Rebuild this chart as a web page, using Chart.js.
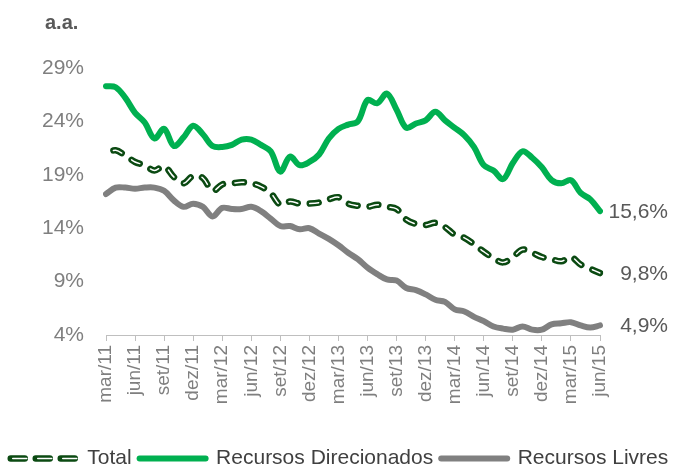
<!DOCTYPE html>
<html>
<head>
<meta charset="utf-8">
<script src="https://cdn.jsdelivr.net/npm/chart.js"></script>
<style>
    html, body { margin: 0; padding: 0; background: #fff; }
    #wrap { width: 679px; height: 467px; }
</style>
</head>
<body>
<div id="wrap"><canvas id="taxa-chart" width="679" height="467"></canvas></div>
<script>
// categorias (mensal, mar/11 a jun/15)
var meses = [
    'mar/11', 'abr/11', 'mai/11', 'jun/11', 'jul/11', 'ago/11', 'set/11', 'out/11', 'nov/11', 'dez/11',
    'jan/12', 'fev/12', 'mar/12', 'abr/12', 'mai/12', 'jun/12', 'jul/12', 'ago/12', 'set/12', 'out/12', 'nov/12', 'dez/12',
    'jan/13', 'fev/13', 'mar/13', 'abr/13', 'mai/13', 'jun/13', 'jul/13', 'ago/13', 'set/13', 'out/13', 'nov/13', 'dez/13',
    'jan/14', 'fev/14', 'mar/14', 'abr/14', 'mai/14', 'jun/14', 'jul/14', 'ago/14', 'set/14', 'out/14', 'nov/14', 'dez/14',
    'jan/15', 'fev/15', 'mar/15', 'abr/15', 'mai/15', 'jun/15'
];

// % a.a.
var total = [
    21.0, 21.3, 20.8, 20.2, 19.9, 19.4, 19.8, 18.8, 18.2, 18.9,
    18.7, 17.5, 18.1, 18.2, 18.3, 18.2, 17.9, 17.3, 16.2, 16.5, 16.3, 16.3,
    16.4, 16.7, 16.9, 16.3, 16.1, 16.0, 16.2, 16.0, 15.8, 14.8, 14.4, 14.3,
    14.5, 14.1, 13.4, 13.1, 12.5, 11.8, 11.2, 10.8, 11.3, 12.0, 11.7, 11.3,
    11.1, 10.9, 11.3, 10.6, 10.2, 9.8
];
var direcionados = [
    27.3, 27.2, 26.2, 24.8, 23.9, 22.4, 23.3, 21.7, 22.5, 23.6,
    22.8, 21.7, 21.6, 21.8, 22.3, 22.3, 21.8, 21.2, 19.3, 20.7, 19.9, 20.2,
    20.9, 22.4, 23.3, 23.7, 24.0, 26.0, 25.7, 26.6, 25.1, 23.4, 23.8, 24.1,
    24.9, 24.1, 23.4, 22.7, 21.6, 19.9, 19.4, 18.6, 20.1, 21.2, 20.6, 19.7,
    18.5, 18.2, 18.5, 17.3, 16.7, 15.6
];
var livres = [
    17.2, 17.8, 17.8, 17.7, 17.8, 17.8, 17.5, 16.6, 16.0, 16.3,
    16.0, 15.1, 15.9, 15.8, 15.8, 16.0, 15.6, 14.9, 14.2, 14.2, 13.9, 14.0,
    13.5, 13.0, 12.4, 11.7, 11.1, 10.3, 9.7, 9.2, 9.1, 8.4, 8.2, 7.8,
    7.3, 7.1, 6.4, 6.2, 5.7, 5.3, 4.8, 4.6, 4.5, 4.8, 4.5, 4.5,
    5.0, 5.1, 5.2, 4.9, 4.7, 4.9
];

var eixoMin = 4;
var eixoMax = 29;
var eixoPasso = 5;
var unidade = 'a.a.';

var fonte = '"Liberation Sans", Arial, sans-serif';
var traco = [9, 12];
var legendaTraco = [14, 11];

function fmtPct(v) {
    return v.toFixed(1).replace('.', ',') + '%';
}

// texto "a.a." e ultimo valor de cada serie; miolo branco do traco na legenda
var rotulos = {
    id: 'rotulos',
    afterDraw: function (chart) {
        var ctx = chart.ctx;
        var area = chart.chartArea;
        ctx.save();
        ctx.textBaseline = 'middle';
        ctx.textAlign = 'left';
        ctx.fillStyle = '#595959';
        ctx.font = 'bold 20px ' + fonte;
        ctx.fillText(unidade, area.left - 61, 23);

        ctx.font = '21px ' + fonte;
        ctx.textAlign = 'right';
        [0, 2, 3].forEach(function (i) {
            var meta = chart.getDatasetMeta(i);
            var pt = meta.data[meta.data.length - 1];
            var serie = chart.data.datasets[i].data;
            ctx.fillText(fmtPct(serie[serie.length - 1]), area.right + 68, pt.y + 1);
        });

        var box = chart.legend.legendHitBoxes[0];
        var w = chart.options.plugins.legend.labels.pointStyleWidth;
        var cy = box.top + box.height / 2;
        ctx.strokeStyle = '#ffffff';
        ctx.lineWidth = 1.5;
        ctx.lineCap = 'round';
        ctx.setLineDash(legendaTraco);
        ctx.beginPath();
        ctx.moveTo(box.left + w, cy);
        ctx.lineTo(box.left, cy);
        ctx.stroke();
        ctx.restore();
    }
};

var ctx = document.getElementById('taxa-chart').getContext('2d');
var grafico = new Chart(ctx, {
    type: 'line',
    data: {
        labels: meses,
        datasets: [
            {
                label: 'Total',
                data: total,
                borderColor: '#0b4a12',
                borderWidth: 6.5,
                borderDash: traco,
                borderDashOffset: -8,
                borderCapStyle: 'round',
                pointRadius: 0,
                tension: 0.35,
                yAxisID: 'y',
                order: 1
            },
            {
                label: 'Total miolo',
                data: total,
                borderColor: '#ffffff',
                borderWidth: 1.5,
                borderDash: traco,
                borderDashOffset: -8,
                borderCapStyle: 'round',
                pointRadius: 0,
                tension: 0.35,
                yAxisID: 'y',
                order: 0
            },
            {
                label: 'Recursos Direcionados',
                data: direcionados,
                borderColor: '#00b050',
                borderWidth: 6,
                borderCapStyle: 'round',
                borderJoinStyle: 'round',
                pointRadius: 0,
                tension: 0.35,
                yAxisID: 'y',
                order: 2
            },
            {
                label: 'Recursos Livres',
                data: livres,
                borderColor: '#808080',
                borderWidth: 6,
                borderCapStyle: 'round',
                borderJoinStyle: 'round',
                pointRadius: 0,
                tension: 0.35,
                yAxisID: 'y',
                order: 3
            }
        ]
    },
    options: {
        responsive: false,
        animation: false,
        devicePixelRatio: 1,
        layout: { padding: { top: 68, left: 0, right: 0, bottom: 0 } },
        plugins: {
            tooltip: { enabled: false },
            title: { display: false },
            legend: {
                position: 'bottom',
                maxHeight: 27,
                labels: {
                    usePointStyle: true,
                    pointStyle: 'line',
                    pointStyleWidth: 66,
                    padding: 8,
                    color: '#404040',
                    font: { family: fonte, size: 21 },
                    filter: function (item) {
                        return item.datasetIndex !== 1;
                    },
                    generateLabels: function (chart) {
                        var itens = Chart.defaults.plugins.legend.labels.generateLabels(chart);
                        itens.forEach(function (item) {
                            var ds = chart.data.datasets[item.datasetIndex];
                            item.lineWidth = ds.borderWidth;
                            item.strokeStyle = ds.borderColor;
                            item.lineCap = 'round';
                            item.lineDash = ds.borderDash ? legendaTraco : [];
                            item.lineDashOffset = 0;
                            item.pointStyle = 'line';
                        });
                        return itens;
                    }
                }
            }
        },
        scales: {
            x: {
                grid: {
                    display: true,
                    drawOnChartArea: false,
                    drawTicks: true,
                    tickLength: 6,
                    tickColor: function (c) {
                        return c.index % 3 === 0 ? '#bfbfbf' : 'rgba(0,0,0,0)';
                    }
                },
                border: { display: true, color: '#bfbfbf', width: 1 },
                ticks: {
                    autoSkip: false,
                    maxRotation: 90,
                    minRotation: 90,
                    padding: 4,
                    color: '#7f7f7f',
                    font: { family: fonte, size: 19 },
                    callback: function (val, idx) {
                        return idx % 3 === 0 ? meses[idx] : '';
                    }
                },
                afterFit: function (s) { s.height = 105; }
            },
            y: {
                min: eixoMin,
                max: eixoMax,
                grid: { display: false, drawTicks: false },
                border: { display: false },
                ticks: {
                    stepSize: eixoPasso,
                    padding: 22,
                    color: '#7f7f7f',
                    font: { family: fonte, size: 21 },
                    callback: function (v) { return v + '%'; }
                },
                afterFit: function (s) { s.width = 106; }
            },
            yDir: {
                position: 'right',
                grid: { display: false, drawTicks: false },
                border: { display: false },
                ticks: { display: false },
                afterFit: function (s) { s.width = 79; }
            }
        }
    },
    plugins: [rotulos]
});
</script>
</body>
</html>
